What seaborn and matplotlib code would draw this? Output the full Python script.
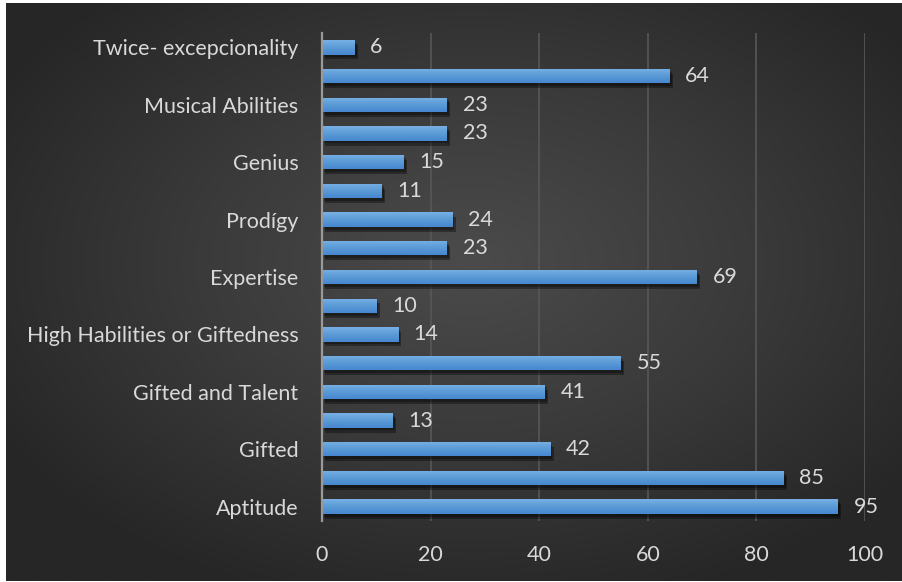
import numpy as np
import pandas as pd
import matplotlib
matplotlib.use("Agg")
import matplotlib.pyplot as plt
import matplotlib.patheffects as pe
from matplotlib.colors import LinearSegmentedColormap
import seaborn as sns

# Rows listed from top to bottom; only every other row carries a label
tick_labels = [
    "Twice- excepcionality", "", "Musical Abilities", "", "Genius", "",
    "Prodígy", "", "Expertise", "", "High Habilities or Giftedness", "",
    "Gifted and Talent", "", "Gifted", "", "Aptitude",
]
values = [6, 64, 23, 23, 15, 11, 24, 23, 69, 10, 14, 55, 41, 13, 42, 85, 95]
x_ticks = [0, 20, 40, 60, 80, 100]

sns.set_theme(style="dark")
plt.rcParams["font.family"] = ["Lato", "DejaVu Sans"]

text_color = "#d9d9d9"
bar_color = "#5b9bd5"
fs = 15.5

fig = plt.figure(figsize=(9.03, 5.82), dpi=100)
fig.patch.set_facecolor("white")

# Radial dark background
bg = fig.add_axes([6 / 903, 1 / 582, 897 / 903, 578 / 582])
bg.set_axis_off()
h, w = 300, 460
yy, xx = np.mgrid[0:h, 0:w]
cx, cy = w * 0.52, h * 0.55
r = np.sqrt(((xx - cx) / (w * 0.62)) ** 2 + ((yy - cy) / (h * 0.62)) ** 2)
r = np.clip(r, 0, 1)
bg_cmap = LinearSegmentedColormap.from_list("bg", ["#4b4b4b", "#3a3a3a", "#262626"])
bg.imshow(r, cmap=bg_cmap, aspect="auto", extent=[0, 1, 0, 1], origin="lower",
          interpolation="bilinear")
bg.set_xlim(0, 1)
bg.set_ylim(0, 1)

ax = fig.add_axes([322 / 903, 61 / 582, 543 / 903, 488 / 582])
ax.patch.set_alpha(0)

df = pd.DataFrame({"row": np.arange(len(values)), "value": values})
sns.barplot(data=df, x="value", y="row", orient="h", color=bar_color,
            width=0.5, saturation=1, linewidth=0, edgecolor="none", ax=ax, zorder=3)

ax.set_xlim(0, 100)
ax.set_ylim(len(values) - 0.5, -0.5)
ax.set_xticks(x_ticks)
ax.set_xticklabels([str(t) for t in x_ticks], color=text_color, fontsize=fs)
ax.set_yticks(np.arange(len(values)))
ax.set_yticklabels(tick_labels, color=text_color, fontsize=fs)
ax.tick_params(axis="both", length=0)
ax.tick_params(axis="x", pad=17)
ax.tick_params(axis="y", pad=17)
ax.set_xlabel("")
ax.set_ylabel("")
for s in ["top", "right", "bottom"]:
    ax.spines[s].set_visible(False)
ax.spines["left"].set_color("#9a9a9a")
ax.spines["left"].set_linewidth(1.6)
ax.spines["left"].set_zorder(5)

ax.grid(False)
for t in x_ticks[1:]:
    ax.axvline(t, color="#575757", lw=1.2, zorder=1)

# Vertical gradient and soft drop shadow on each bar
grad_cmap = LinearSegmentedColormap.from_list("bar", ["#4687d0", "#5b9bd5", "#78b0e4"])
grad = np.linspace(0, 1, 50).reshape(-1, 1)
for patch, v in zip(ax.patches, values):
    patch.set_path_effects([
        pe.SimplePatchShadow(offset=(2.5, -3.5), shadow_rgbFace="black", alpha=0.35),
        pe.SimplePatchShadow(offset=(1.5, -2.0), shadow_rgbFace="black", alpha=0.3),
        pe.Normal(),
    ])
    x0, y0 = patch.get_x(), patch.get_y()
    bw, bh = patch.get_width(), patch.get_height()
    im = ax.imshow(grad, cmap=grad_cmap, aspect="auto",
                   extent=[x0, x0 + bw, y0 + bh, y0], origin="lower",
                   zorder=4, interpolation="bilinear")
    im.set_clip_path(patch)
    ax.text(v + 2.9, y0 + bh / 2, f"{v}", color=text_color, fontsize=fs,
            va="center", ha="left", zorder=6)

ax.set_xlim(0, 100)
ax.set_ylim(len(values) - 0.5, -0.5)

fig.savefig("out.png", dpi=100, facecolor=fig.get_facecolor())
